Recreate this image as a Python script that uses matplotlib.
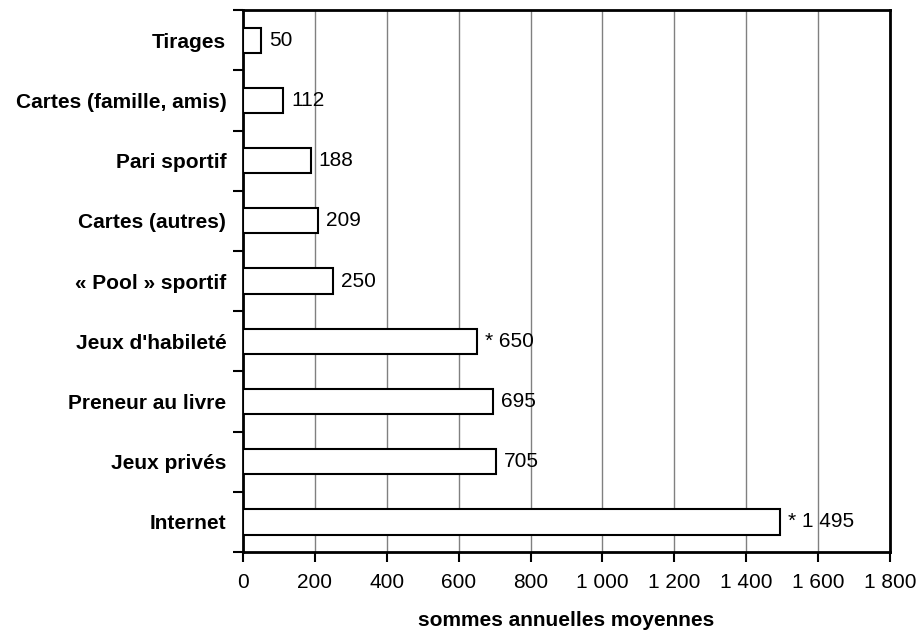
import numpy as np
import matplotlib
matplotlib.use("Agg")
import matplotlib.pyplot as plt

plt.rcParams['font.family'] = ['Liberation Sans', 'DejaVu Sans']

# données (de haut en bas)
categories = ["Tirages", "Cartes (famille, amis)", "Pari sportif", "Cartes (autres)",
              "« Pool » sportif", "Jeux d'habileté", "Preneur au livre", "Jeux privés",
              "Internet"]
values = [50, 112, 188, 209, 250, 650, 695, 705, 1495]
starred = [False, False, False, False, False, True, False, False, True]
xticks = np.arange(0, 1801, 200)


def fr(n):
    return f"{n:,}".replace(",", " ")


fig = plt.figure(figsize=(9.18, 6.33), dpi=100)
ax = fig.add_axes([0.2647, 0.128, 0.7048, 0.856])

y = np.arange(len(categories))
ax.barh(y, values, height=0.42, color="white", edgecolor="black", linewidth=1.5, zorder=3)

for yi, v, s in zip(y, values, starred):
    txt = ("* " if s else "") + fr(v)
    ax.text(v + 22, yi, txt, va="center", ha="left", fontsize=15, zorder=4)

ax.set_xlim(0, 1800)
ax.set_ylim(len(categories) - 0.5, -0.5)
ax.set_xticks(xticks)
ax.set_xticklabels([fr(t) for t in xticks], fontsize=15)
ax.set_yticks(y)
ax.set_yticklabels(categories, fontsize=15, fontweight="bold")
ax.set_yticks(np.arange(-0.5, len(categories)), minor=True)
ax.tick_params(axis="y", which="major", length=0, pad=12)
ax.tick_params(axis="y", which="minor", length=7, width=1.5, direction="out")
ax.tick_params(axis="x", length=7, width=1.5, direction="out", pad=8)

ax.xaxis.grid(True, color="#808080", linewidth=1, zorder=0)
ax.set_axisbelow(True)
for sp in ax.spines.values():
    sp.set_linewidth(2)

ax.set_xlabel("sommes annuelles moyennes", fontsize=15, fontweight="bold", labelpad=14)

fig.savefig("out.png", dpi=100)
